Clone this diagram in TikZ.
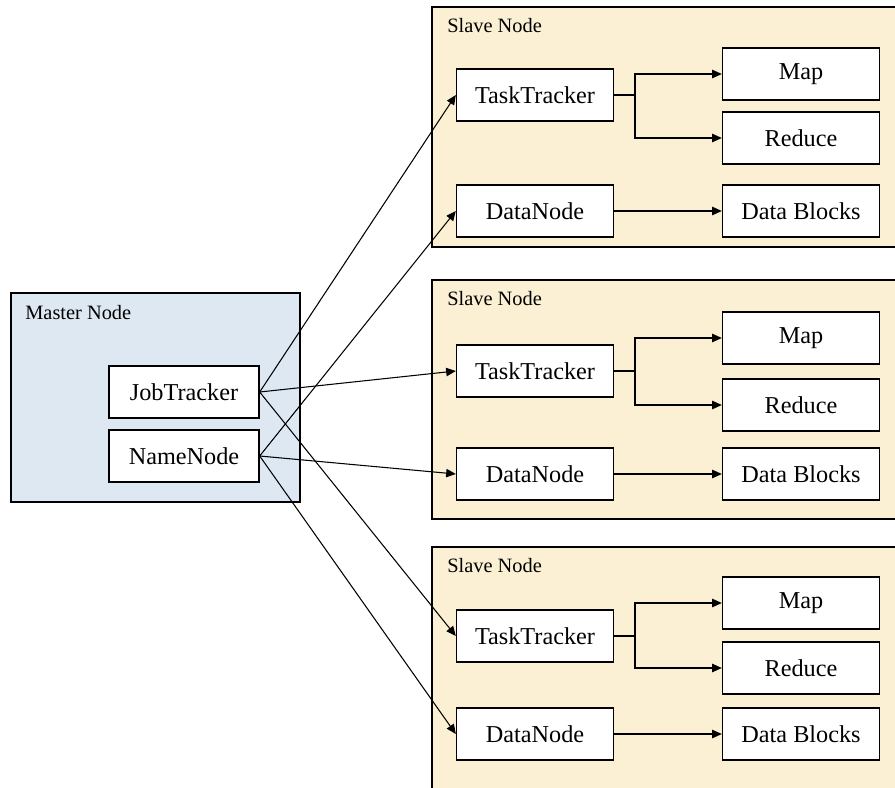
\documentclass[tikz,border=0pt]{standalone}
\usepackage{fontspec}
\setmainfont{Liberation Serif}
\usetikzlibrary{arrows.meta}

\definecolor{masterfill}{HTML}{DEE8F2}
\definecolor{slavefill}{HTML}{FBF0D3}

\tikzset{
  part/.style={draw, fill=white, line width=0.8pt, minimum width=3.14cm, minimum height=1.04cm,
    inner sep=0pt, font=\fontsize{13.8}{16}\selectfont},
  link/.style={-{Triangle[length=5.5pt,width=4.8pt]}, line width=0.6pt},
  frame/.style={draw, line width=1.1pt},
  caption/.style={anchor=west, inner sep=0pt, font=\fontsize{11.6}{13}\selectfont}
}

\begin{document}
\begin{tikzpicture}[x=0.02cm, y=-0.02cm]
\useasboundingbox (0,0) rectangle (895,787);

% master side
\draw[frame, fill=masterfill] (11,293) rectangle (300,502);
\node[caption] (mastertitle) at (25,313) {Master Node};
\node[part, minimum width=3cm] (jt) at (184,392) {JobTracker};
\node[part, minimum width=3cm] (nn) at (184,456) {NameNode};

% three slaves: top, bottom, tasktracker, map, reduce, datanode rows
\foreach \s/\ytop/\ybot/\ytt/\ymap/\yred/\ydn in
  {1/7/247/95/74/138/211, 2/280/519/371/338/405/474, 3/547/810/636/603/668/734}{
  \draw[frame, fill=slavefill] (432,\ytop) rectangle (910,\ybot);
  \node[caption] (title\s) at (447,\ytop+19) {Slave Node};
  \node[part] (tt\s)  at (535,\ytt) {TaskTracker};
  \node[part] (map\s) at (801,\ymap) {Map};
  \node[part] (red\s) at (801,\yred) {Reduce};
  \node[part] (dn\s)  at (535,\ydn) {DataNode};
  \node[part] (db\s)  at (801,\ydn) {Data Blocks};
  \coordinate (fork\s) at (635,\ytt);
  \draw[line width=0.6pt] (tt\s.east) -- (fork\s);
  \draw[link] (fork\s) |- (map\s.west);
  \draw[link] (fork\s) |- (red\s.west);
  \draw[link] (dn\s.east) -- (db\s.west);
}

% master to slaves
\foreach \s in {1,2,3}{
  \draw[link] (jt.east) -- (tt\s.west);
  \draw[link] (nn.east) -- (dn\s.west);
}
\end{tikzpicture}
\end{document}
